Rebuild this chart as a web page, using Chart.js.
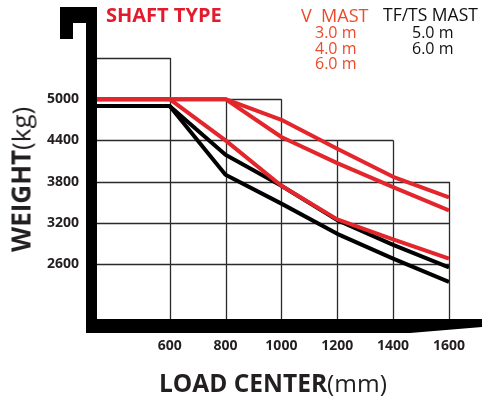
<!DOCTYPE html>
<html>
<head>
<meta charset="utf-8">
<title>Load chart</title>
<script src="https://cdn.jsdelivr.net/npm/chart.js@4.4.1/dist/chart.umd.min.js"></script>
<style>
  body { margin: 0; background: #fff; font-family: 'Open Sans', sans-serif; }
  #wrap { position: relative; width: 484px; height: 402px; overflow: hidden; }
  #wrap canvas { position: absolute; left: 0; top: 0; }
  .txt { position: absolute; white-space: pre; line-height: 1; }
  .shaft { left: 106px; top: 5px; font-size: 20px; font-weight: bold; color: #e31b2c; }
  .vmast { left: 301px; top: 6px; font-size: 18px; color: #ec4a2a; }
  .tfmast { left: 383px; top: 6px; font-size: 17.5px; color: #111; }
  .heights { top: 25px; font-size: 16px; line-height: 15.5px; }
  .vh { left: 315px; color: #ec4a2a; }
  .th { left: 412px; color: #111; }
  .xtitle { left: 159px; top: 371px; font-size: 24.5px; color: #231f20; }
  .ytitle { left: 0; top: 0; font-size: 26px; line-height: 26px; color: #231f20;
            transform-origin: 0 0; transform: translate(7.5px, 252px) rotate(-90deg); }
  b { font-weight: bold; }
</style>
</head>
<body>
<div id="wrap">
  <canvas id="loadChart" width="484" height="402"></canvas>
  <div class="txt shaft">SHAFT TYPE</div>
  <div class="txt vmast">V  MAST</div>
  <div class="txt tfmast">TF/TS MAST</div>
  <div class="txt heights vh">3.0 m
4.0 m
6.0 m</div>
  <div class="txt heights th">5.0 m
6.0 m</div>
  <div class="txt xtitle"><b>LOAD CENTER</b>(mm)</div>
  <div class="txt ytitle"><b>WEIGHT</b>(kg)</div>
</div>
<script>
// load centers (mm), first point sits on the left edge of the plot
const loadCenters = [340, 600, 800, 1000, 1200, 1400, 1600];
const xTicks = [600, 800, 1000, 1200, 1400, 1600];
const yTicks = [2600, 3200, 3800, 4400, 5000];

// capacity (kg) per mast height
const vMast30 = [5000, 5000, 5000, 4700, 4280, 3870, 3570];
const vMast40 = [5000, 5000, 5000, 4450, 4070, 3720, 3380];
const vMast60 = [5000, 5000, 4400, 3740, 3250, 2960, 2680];
const tfMast50 = [4900, 4900, 4190, 3740, 3240, 2880, 2550];
const tfMast60 = [4900, 4900, 3900, 3480, 3040, 2680, 2340];

// top of the grid in each column between two load centers (staircase)
const columnTops = [5600, 5000, 5000, 4400, 4400, 3800];

const RED = '#e3262b';
const BLACK = '#000';

function series(values, color, order) {
    return {
        data: loadCenters.map((x, i) => ({ x: x, y: values[i] })),
        borderColor: color,
        borderWidth: 4,
        pointRadius: 0,
        tension: 0,
        borderJoinStyle: 'round',
        order: order
    };
}

// stepped grid drawn from the scales
const staircaseGrid = {
    id: 'staircaseGrid',
    beforeDatasetsDraw(chart) {
        const { ctx, scales: { x, y } } = chart;
        ctx.save();
        ctx.strokeStyle = '#2a2a2a';
        ctx.lineWidth = 1.3;
        ctx.beginPath();
        for (let i = 1; i < loadCenters.length; i++) {
            const top = Math.max(columnTops[i - 1], i < columnTops.length ? columnTops[i] : -Infinity);
            const px = Math.round(x.getPixelForValue(loadCenters[i])) + 0.5;
            ctx.moveTo(px, y.bottom);
            ctx.lineTo(px, y.getPixelForValue(top));
        }
        [5600].concat(yTicks).forEach(v => {
            let last = 0;
            columnTops.forEach((t, i) => { if (t >= v) last = i + 1; });
            const py = Math.round(y.getPixelForValue(v)) + 0.5;
            ctx.moveTo(x.left, py);
            ctx.lineTo(Math.round(x.getPixelForValue(loadCenters[last])) + 0.5, py);
        });
        ctx.stroke();
        ctx.restore();
    }
};

// thick mast + fork frame around the plot
const forkFrame = {
    id: 'forkFrame',
    afterDraw(chart) {
        const { ctx, chartArea } = chart;
        const L = chartArea.left, B = chartArea.bottom;
        ctx.save();
        ctx.fillStyle = '#000';
        ctx.fillRect(L - 11, 7, 11, B + 14 - 7);
        ctx.fillRect(60, 7, L - 60, 16);
        ctx.fillRect(60, 23, 13, 16);
        ctx.beginPath();
        ctx.moveTo(L - 11, B);
        ctx.lineTo(482, B);
        ctx.lineTo(482, B + 8);
        ctx.lineTo(410, B + 14);
        ctx.lineTo(L - 11, B + 14);
        ctx.closePath();
        ctx.fill();
        ctx.restore();
    }
};

const tickFont = { family: "'Open Sans', sans-serif", weight: 'bold', size: 14 };

new Chart(document.getElementById('loadChart'), {
    type: 'line',
    data: {
        datasets: [
            series(vMast30, RED, 0),
            series(vMast40, RED, 0),
            series(vMast60, RED, 0),
            series(tfMast50, BLACK, 1),
            series(tfMast60, BLACK, 1)
        ]
    },
    options: {
        responsive: false,
        animation: false,
        devicePixelRatio: 1,
        layout: { autoPadding: false, padding: { left: 0, right: 26, top: 58, bottom: 0 } },
        scales: {
            x: {
                type: 'linear',
                min: 340,
                max: 1600,
                grid: { display: false, drawTicks: false },
                border: { display: false },
                ticks: { font: tickFont, color: '#231f20', padding: 19, autoSkip: false, maxRotation: 0,
                         callback: v => String(v) },
                afterBuildTicks: s => { s.ticks = xTicks.map(v => ({ value: v })); },
                afterFit: s => { s.height = 83; }
            },
            y: {
                min: 1800,
                max: 5600,
                grid: { display: false, drawTicks: false },
                border: { display: false },
                ticks: { font: tickFont, color: '#231f20', padding: 18, callback: v => String(v) },
                afterBuildTicks: s => { s.ticks = yTicks.map(v => ({ value: v })); },
                afterFit: s => { s.width = 97; }
            }
        },
        plugins: {
            legend: { display: false },
            tooltip: { enabled: false }
        }
    },
    plugins: [staircaseGrid, forkFrame]
});
</script>
</body>
</html>
